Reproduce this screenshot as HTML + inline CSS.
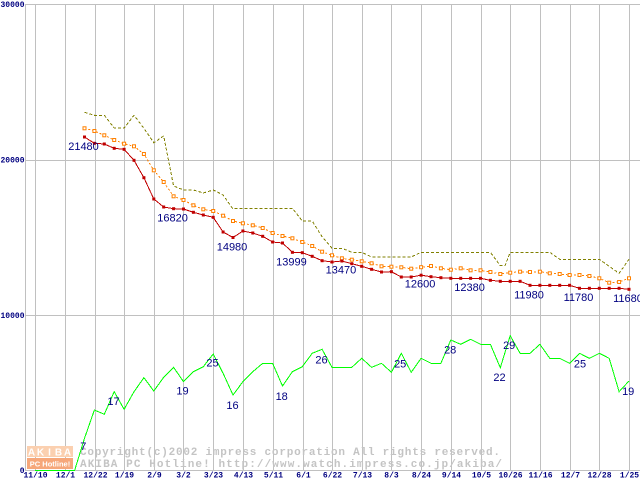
<!DOCTYPE html>
<html><head><meta charset="utf-8"><style>
html,body{margin:0;padding:0;background:#fff;}
svg{display:block;}
.ax{font-family:"Liberation Mono",monospace;font-size:8px;font-weight:bold;fill:#000080;}
.lb{font-family:"Liberation Sans",sans-serif;font-size:11px;fill:#000080;text-anchor:middle;}
.cp{font-family:"Liberation Mono",monospace;font-size:11px;font-weight:bold;fill:#c4c4c4;}
.ln{shape-rendering:crispEdges;}
</style></head><body>
<svg width="640" height="480" viewBox="0 0 640 480" xmlns="http://www.w3.org/2000/svg">
<defs>
<marker id="mr" markerWidth="4" markerHeight="4" refX="2" refY="2" markerUnits="userSpaceOnUse"><rect x="0.5" y="0.5" width="3" height="3" fill="#c00000"/></marker>
<marker id="mo" markerWidth="5" markerHeight="5" refX="2.5" refY="2.5" markerUnits="userSpaceOnUse"><rect x="1" y="1" width="3" height="3" fill="#fff" stroke="#ff8000" stroke-width="1" stroke-dasharray="none"/></marker>
</defs>
<rect width="640" height="480" fill="#fff"/>
<g stroke="#c0c0c0" stroke-width="1" shape-rendering="crispEdges">
<line x1="25.5" y1="4" x2="25.5" y2="471"/>
<line x1="35.5" y1="4" x2="35.5" y2="471"/>
<line x1="65.5" y1="4" x2="65.5" y2="471"/>
<line x1="95.5" y1="4" x2="95.5" y2="471"/>
<line x1="124.5" y1="4" x2="124.5" y2="471"/>
<line x1="154.5" y1="4" x2="154.5" y2="471"/>
<line x1="183.5" y1="4" x2="183.5" y2="471"/>
<line x1="213.5" y1="4" x2="213.5" y2="471"/>
<line x1="243.5" y1="4" x2="243.5" y2="471"/>
<line x1="273.5" y1="4" x2="273.5" y2="471"/>
<line x1="303.5" y1="4" x2="303.5" y2="471"/>
<line x1="332.5" y1="4" x2="332.5" y2="471"/>
<line x1="362.5" y1="4" x2="362.5" y2="471"/>
<line x1="391.5" y1="4" x2="391.5" y2="471"/>
<line x1="421.5" y1="4" x2="421.5" y2="471"/>
<line x1="451.5" y1="4" x2="451.5" y2="471"/>
<line x1="481.5" y1="4" x2="481.5" y2="471"/>
<line x1="510.5" y1="4" x2="510.5" y2="471"/>
<line x1="540.5" y1="4" x2="540.5" y2="471"/>
<line x1="570.5" y1="4" x2="570.5" y2="471"/>
<line x1="599.5" y1="4" x2="599.5" y2="471"/>
<line x1="629.5" y1="4" x2="629.5" y2="471"/>
<line x1="25" y1="4.5" x2="640" y2="4.5"/>
<line x1="25" y1="160.5" x2="640" y2="160.5"/>
<line x1="25" y1="315.5" x2="640" y2="315.5"/>
<line x1="25" y1="470.5" x2="640" y2="470.5"/>
</g>

<!-- watermark -->
<rect x="27" y="446" width="46" height="11" fill="#fbd0b0"/>
<g font-family="Liberation Sans,sans-serif" font-size="10" font-weight="bold" fill="#fff" text-anchor="middle">
<text x="31.5" y="455.5">A</text><text x="40.5" y="455.5">K</text><text x="49.5" y="455.5">I</text><text x="58.5" y="455.5">B</text><text x="67.5" y="455.5">A</text>
</g>
<rect x="27" y="458" width="46" height="11" fill="#f6a77a"/>
<text x="50" y="466.5" font-family="Liberation Sans,sans-serif" font-size="7.5" font-weight="bold" fill="#fff" text-anchor="middle">PC Hotline!</text>
<text class="cp" x="80" y="455" textLength="420" lengthAdjust="spacing">Copyright(c)2002 impress corporation All rights reserved.</text>
<text class="cp" x="80" y="467" textLength="422" lengthAdjust="spacing">AKIBA PC Hotline! http://www.watch.impress.co.jp/akiba/</text>

<!-- olive -->
<polyline class="ln" fill="none" stroke="#808000" stroke-width="1" stroke-dasharray="3,2" points="84.5,112.3 94.4,115.3 104.3,115.3 114.2,128 124.1,128 134,115.3 143.9,128.3 153.8,142.7 163.7,136 173.6,186 183.5,190 193.4,190 203.3,193 213.2,190 223.1,195 233,209 237,208.3 292.4,208.3 302.3,221 312.2,221 322.1,236.7 332,248.3 341.9,248.3 351.8,252.3 361.7,252.3 371.6,257 411.2,257 421.1,252.3 490.4,252.3 500.3,265.7 505,265.7 510.2,252.3 549.8,252.3 559.7,259.3 599.3,259.3 619.1,273.3 629,259.3"/>

<!-- orange -->
<polyline class="ln" fill="none" stroke="#ff8000" stroke-width="1" stroke-dasharray="2,2" marker-start="url(#mo)" marker-mid="url(#mo)" marker-end="url(#mo)" points="84.5,128.3 94.4,131 104.3,135.3 114.2,140 124.1,143.7 134,146.3 143.9,154 153.8,170.3 163.7,182 173.6,196.3 183.5,200 193.4,205.3 203.3,209.3 213.2,211 223.1,215.7 233,221 242.9,223.3 252.8,225.3 262.7,228 272.6,233 282.5,236 292.4,238.3 302.3,242 312.2,246 322.1,251.7 332,255.3 341.9,258.3 351.8,259.7 361.7,261.3 371.6,263.3 381.5,266.3 391.4,266.7 401.3,267.3 411.2,268.7 421.1,267.2 431,266 440.9,268.3 450.8,269.7 460.7,268.3 470.6,270.3 480.5,270.3 490.4,272 500.3,274 510.2,272.7 520.1,271.7 530,272 539.9,271.7 549.8,273.3 559.7,274 569.6,275 579.5,275 589.4,276 599.3,278.3 609.2,282.7 619.1,282 629,278.3"/>

<!-- red -->
<polyline class="ln" fill="none" stroke="#c00000" stroke-width="1" marker-start="url(#mr)" marker-mid="url(#mr)" marker-end="url(#mr)" points="84.5,137 94.4,143.3 104.3,144 114.2,148.3 124.1,149.3 134,160.3 143.9,177.7 153.8,199 163.7,207 173.6,208.7 183.5,209 193.4,212.3 203.3,215 213.2,217.3 223.1,232 233,237.5 242.9,231 252.8,233 262.7,236.3 272.6,242 282.5,243 292.4,252.3 302.3,252.7 312.2,256.3 322.1,260.7 332,262 341.9,261 351.8,263.7 361.7,266.3 371.6,269.3 381.5,272 391.4,271.7 401.3,277 411.2,277 421.1,275.2 431,276.7 440.9,277.7 450.8,278.3 460.7,278.3 470.6,278.3 480.5,278.3 490.4,280.3 500.3,281.3 510.2,281.3 520.1,281.3 530,285.3 539.9,285.3 549.8,285.3 559.7,285.3 569.6,285.3 579.5,288.3 589.4,288.3 599.3,288.3 609.2,288.3 619.1,288.3 629,289.3"/>

<!-- green -->
<polyline class="ln" fill="none" stroke="#00ff00" stroke-width="1" points="35,470.5 74.6,470.5 84.5,438.3 94.4,410 104.3,414.3 114.2,391.7 124.1,409.3 134,391.7 143.9,377.7 153.8,391 163.7,377.3 173.6,367.3 183.5,381.7 193.4,371.7 203.3,366.7 213.2,354 223.1,373.3 233,395 242.9,381.7 252.8,371.7 262.7,363.3 272.6,363.3 282.5,386 292.4,371.7 302.3,366.7 312.2,353.3 322.1,349.3 332,367.3 341.9,367.3 351.8,367.3 361.7,358.3 371.6,367.3 381.5,363.3 391.4,372.3 401.3,353.3 411.2,372.3 421.1,358.3 431,363.3 440.9,363.3 450.8,340 460.7,344.3 470.6,339.3 480.5,344.3 490.4,344.3 500.3,367.7 510.2,335.7 520.1,353.3 530,353.3 539.9,344.3 549.8,358.3 559.7,358.3 569.6,363.3 579.5,353.3 589.4,358.3 599.3,353.3 609.2,358.3 619.1,391.7 629,381"/>

<!-- price labels -->
<text class="lb" x="83.5" y="150">21480</text>
<text class="lb" x="172.6" y="221.7">16820</text>
<text class="lb" x="232" y="250.3">14980</text>
<text class="lb" x="291.4" y="265.3">13999</text>
<text class="lb" x="340.9" y="273.6">13470</text>
<text class="lb" x="420.1" y="287.5">12600</text>
<text class="lb" x="469.6" y="291.2">12380</text>
<text class="lb" x="529" y="298.3">11980</text>
<text class="lb" x="578.5" y="301.2">11780</text>
<text class="lb" x="628" y="301.8">11680</text>

<!-- count labels -->
<text class="lb" x="83.3" y="450">7</text>
<text class="lb" x="113.5" y="405">17</text>
<text class="lb" x="182.5" y="394.3">19</text>
<text class="lb" x="212.5" y="366.7">25</text>
<text class="lb" x="232.5" y="409">16</text>
<text class="lb" x="281.7" y="400">18</text>
<text class="lb" x="321.5" y="363.3">26</text>
<text class="lb" x="400.2" y="367.3">25</text>
<text class="lb" x="450.2" y="353.3">28</text>
<text class="lb" x="499.5" y="381">22</text>
<text class="lb" x="509.2" y="349">29</text>
<text class="lb" x="580" y="367.3">25</text>
<text class="lb" x="628.2" y="395">19</text>

<!-- y axis labels -->
<g class="ax" text-anchor="end">
<text x="24.5" y="7">30000</text>
<text x="24.5" y="162.5">20000</text>
<text x="24.5" y="318">10000</text>
<text x="24.5" y="473">0</text>
</g>
<!-- x axis labels -->
<g class="ax" text-anchor="middle">
<text x="35.5" y="477.5">11/10</text>
<text x="65.5" y="477.5">12/1</text>
<text x="95.5" y="477.5">12/22</text>
<text x="124.5" y="477.5">1/19</text>
<text x="154.5" y="477.5">2/9</text>
<text x="183.5" y="477.5">3/2</text>
<text x="213.5" y="477.5">3/23</text>
<text x="243.5" y="477.5">4/13</text>
<text x="273.5" y="477.5">5/11</text>
<text x="303.5" y="477.5">6/1</text>
<text x="332.5" y="477.5">6/22</text>
<text x="362.5" y="477.5">7/13</text>
<text x="391.5" y="477.5">8/3</text>
<text x="421.5" y="477.5">8/24</text>
<text x="451.5" y="477.5">9/14</text>
<text x="481.5" y="477.5">10/5</text>
<text x="510.5" y="477.5">10/26</text>
<text x="540.5" y="477.5">11/16</text>
<text x="570.5" y="477.5">12/7</text>
<text x="599.5" y="477.5">12/28</text>
<text x="629.5" y="477.5">1/25</text>
</g>
</svg>
</body></html>
